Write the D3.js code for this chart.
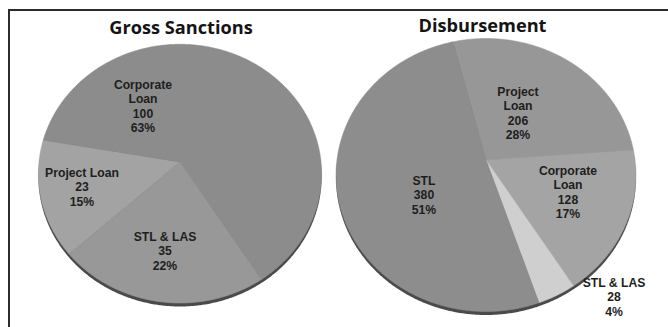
<!DOCTYPE html>
<html>
<head>
<meta charset="utf-8">
<script src="https://cdn.jsdelivr.net/npm/d3@7"></script>
<style>
  html, body { margin: 0; padding: 0; background: #fff; }
  svg { display: block; }
  text { font-weight: 700; }
  .title { font-family: "Open Sans", "Noto Sans", sans-serif; }
  .label { font-family: "Liberation Sans", Arial, sans-serif; }
</style>
</head>
<body>
<svg id="chart" width="668" height="327"></svg>
<script>
// ---- data ----
const sanctionCategories = ["Project Loan", "Corporate Loan", "STL & LAS"];
const sanctionValues = [23, 100, 35];

const disbursementCategories = ["Project Loan", "Corporate Loan", "STL & LAS", "STL"];
const disbursementValues = [206, 128, 28, 380];

const chartTitles = ["Gross Sanctions", "Disbursement"];

// ---- styling / layout ----
const sanctionColors = ["#a3a3a3", "#8c8c8c", "#989898"];
const disbursementColors = ["#979797", "#a4a4a4", "#cfcfcf", "#8d8d8d"];

// label anchors: centre x, first baseline y, wrap category onto two lines
const sanctionLabelLayout = [
  { x: 82, y: 177, wrap: false },
  { x: 143, y: 89, wrap: true },
  { x: 165, y: 241, wrap: false }
];
const disbursementLabelLayout = [
  { x: 518, y: 96, wrap: true },
  { x: 568, y: 175, wrap: true },
  { x: 614, y: 287, wrap: false },
  { x: 424, y: 185, wrap: false }
];

const svg = d3.select("#chart");

// frame
svg.append("path")
  .attr("d", "M9,327V10H668")
  .attr("fill", "none")
  .attr("stroke", "#2b2b2b")
  .attr("stroke-width", 2);

// perspective projection of a tilted disc: angle (d3 convention) -> screen point
function projector(cx, cy, R, cosPhi, tilt) {
  return function (a) {
    const X = R * Math.sin(a), Y = -R * Math.cos(a);
    const s = 1 / (1 - tilt * Y / R);
    return [cx + X * s, cy + Y * cosPhi * s];
  };
}

function arcPoints(proj, a0, a1) {
  const n = Math.max(2, Math.ceil(Math.abs(a1 - a0) / (Math.PI / 360)));
  return d3.range(n + 1).map(i => proj(a0 + (a1 - a0) * i / n));
}

const line = d3.line().curve(d3.curveLinearClosed);

function drawPie(cfg) {
  const g = svg.append("g");
  const proj = projector(cfg.cx, cfg.cy, cfg.R, cfg.cosPhi, cfg.tilt);
  const total = d3.sum(cfg.values);

  const arcs = d3.pie().sort(null).value(d => d)
    .startAngle(cfg.start).endAngle(cfg.start + 2 * Math.PI)(cfg.values);

  // side of the disc (visible along the lower rim)
  const rim = arcPoints(proj, 0, 2 * Math.PI).map(p => [p[0], p[1] + cfg.depth]);
  g.append("path").attr("d", line(rim)).attr("fill", "#4a4a4a");

  // top face slices
  g.selectAll("path.slice").data(arcs).join("path")
    .attr("class", "slice")
    .attr("d", d => line([[cfg.cx, cfg.cy], ...arcPoints(proj, d.startAngle, d.endAngle)]))
    .attr("fill", (d, i) => cfg.colors[i])
    .attr("stroke", (d, i) => cfg.colors[i])
    .attr("stroke-width", 0.6);

  // data labels
  arcs.forEach((d, i) => {
    const L = cfg.labels[i];
    const name = cfg.categories[i];
    const words = L.wrap ? name.split(" ") : [name];
    const lines = [...words, String(d.data), Math.round(d.data / total * 100) + "%"];
    const t = g.append("text")
      .attr("class", "label")
      .attr("text-anchor", "middle")
      .attr("font-size", 12.2)
      .attr("fill", "#1e1e1e");
    lines.forEach((s, j) => {
      t.append("tspan").attr("x", L.x).attr("y", L.y + j * 14.3).text(s);
    });
  });

  // title
  svg.append("text")
    .attr("class", "title")
    .attr("x", cfg.titleX).attr("y", cfg.titleY)
    .attr("text-anchor", "middle")
    .attr("font-size", 18.2)
    .attr("fill", "#141414")
    .text(cfg.title);
}

const deg = Math.PI / 180;

drawPie({
  title: chartTitles[0], titleX: 181, titleY: 33.5,
  categories: sanctionCategories, values: sanctionValues,
  colors: sanctionColors, labels: sanctionLabelLayout,
  cx: 180, cy: 162, R: 141, cosPhi: 0.91, tilt: 0.09, depth: 3.5,
  start: 227.6 * deg
});

drawPie({
  title: chartTitles[1], titleX: 482.5, titleY: 32,
  categories: disbursementCategories, values: disbursementValues,
  colors: disbursementColors, labels: disbursementLabelLayout,
  cx: 486, cy: 160, R: 149, cosPhi: 0.905, tilt: 0.11, depth: 3.5,
  start: 345.8 * deg
});
</script>
</body>
</html>
